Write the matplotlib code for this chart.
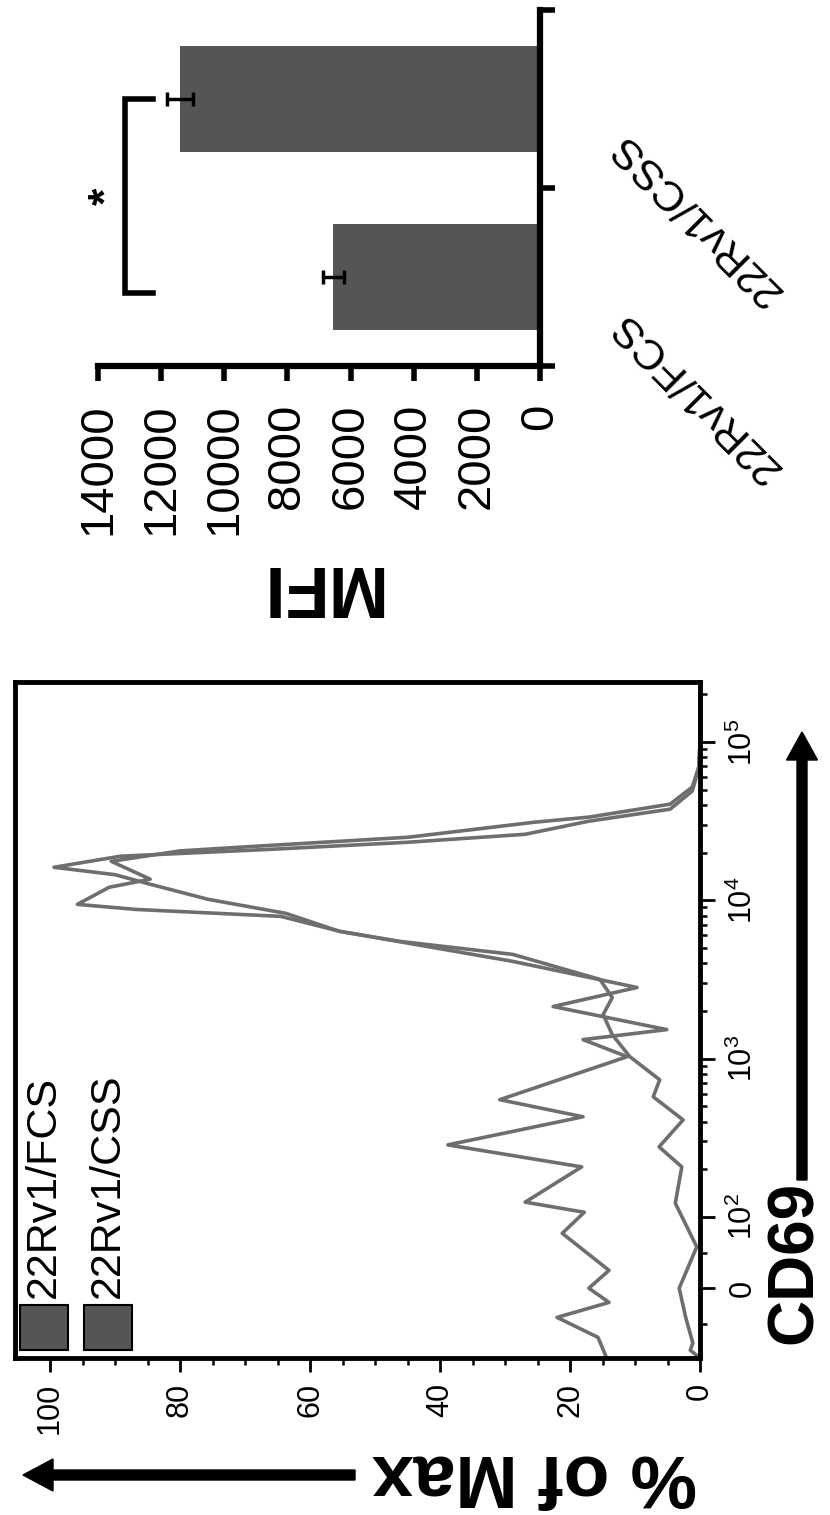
import numpy as np
import matplotlib
matplotlib.use('Agg')
import matplotlib.pyplot as plt
from matplotlib.patches import Rectangle, FancyArrow

plt.rcParams['font.family'] = ['Liberation Sans', 'DejaVu Sans']
plt.rcParams['mathtext.fontset'] = 'custom'
plt.rcParams['mathtext.rm'] = 'Liberation Sans'
plt.rcParams['mathtext.it'] = 'Liberation Sans:italic'
plt.rcParams['mathtext.bf'] = 'Liberation Sans:bold'

# CD69 histograms (channel value, % of max)
fcs_cd69 = [-95, -69, -41, -20, 0, 25, 77, 107, 124, 207, 285, 429, 550, 1028, 1318,
            1524, 2132, 2812, 4111, 6363, 7910, 8750, 9420, 12080, 13580, 17620,
            20500, 22250, 25000, 31100, 33500, 40450, 51850, 69350, 97000, 239000]
fcs_pct = [14.5, 15.7, 22.0, 14.0, 17.1, 14.0, 21.2, 17.8, 26.9, 18.2, 38.8, 18.0, 30.8,
           11.2, 18.0, 5.1, 22.6, 9.7, 28.8, 55.4, 64.5, 86.8, 95.8, 90.9, 84.6, 90.6,
           80.0, 65.8, 44.9, 25.5, 17.1, 4.6, 1.2, 0.2, 0.0, 0.0]
css_cd69 = [-98, -87, -77, -41, 0, 58, 122, 207, 277, 410, 574, 735, 1028, 1416, 1897,
            2430, 3162, 4550, 5500, 6363, 8260, 10140, 12620, 14500, 16150, 18970,
            21000, 23250, 26100, 31570, 37600, 48900, 67450, 97000, 239000]
css_pct = [0.0, 1.5, 1.1, 2.2, 3.2, 0.5, 3.8, 2.8, 6.3, 2.6, 7.2, 6.2, 10.8, 13.5, 14.9,
           13.5, 15.4, 28.8, 46.2, 55.5, 63.7, 75.7, 84.6, 90.0, 99.4, 89.2,
           65.8, 44.9, 26.9, 17.1, 4.6, 1.2, 0.2, 0.0, 0.0]
hist_labels = ['22Rv1/FCS', '22Rv1/CSS']
pct_ticks = [0, 20, 40, 60, 80, 100]
cd69_ticks = [0, 1e2, 1e3, 1e4, 1e5]
cd69_ticklabels = ['0', '$10^2$', '$10^3$', '$10^4$', '$10^5$']

# MFI bars
groups = ['22Rv1/FCS', '22Rv1/CSS']
mfi = [6550, 11400]
mfi_sem = [330, 400]
mfi_ticks = list(range(0, 14001, 2000))

LINE = '#6e6e6e'
FILL = '#555555'
LIN = 0.45  # size of the linear 0..100 stretch, in decades


def biex(v):
    v = np.asarray(v, dtype=float)
    return np.where(v > 100, np.log10(np.maximum(v, 100) / 100) + LIN, v / 100 * LIN)


def biex_inv(u):
    u = np.asarray(u, dtype=float)
    return np.where(u > LIN, 100 * 10 ** (np.minimum(u, 12) - LIN), u / LIN * 100)


W, H = 830, 1515
fig = plt.figure(figsize=(W / 100, H / 100), dpi=100)


def box(l, t, r, b):
    # pixel box (top-left origin) -> figure fractions
    return [l / W, 1 - b / H, (r - l) / W, (b - t) / H]


def px(x, y):
    # pixel position -> inches for dpi_scale_trans
    return x / 100, (H - y) / 100


# the whole figure is drawn turned a quarter turn counter-clockwise:
# histogram below, CD69 running upwards, % of Max running leftwards
ax = fig.add_axes(box(15, 682, 700, 1358))
ax.set_yscale('function', functions=(biex, biex_inv))
ax.plot(fcs_pct, fcs_cd69, color=LINE, lw=2.6, solid_joinstyle='round')
ax.plot(css_pct, css_cd69, color=LINE, lw=2.6, solid_joinstyle='round')
ax.set_xlim(105.4, 0)
ax.set_ylim(-98, 239000)
for s in ax.spines.values():
    s.set_linewidth(3.5)

ax.set_xticks(pct_ticks)
ax.set_xticklabels([str(t) for t in pct_ticks], rotation=90)
ax.set_xticks(np.arange(5, 105, 5), minor=True)
ax.tick_params(axis='x', which='major', direction='out', length=10, width=2,
               pad=8, labelsize=22)
ax.tick_params(axis='x', which='minor', direction='out', length=5, width=1.8)

ax.yaxis.tick_right()
ax.set_yticks(cd69_ticks)
ax.set_yticklabels(cd69_ticklabels, rotation=90, va='center')
minor = [-50, 50] + [m * 10 ** e for e in (2, 3, 4) for m in range(2, 10)] + [2e5]
ax.set_yticks(minor, minor=True)
ax.yaxis.set_minor_formatter(plt.NullFormatter())
ax.tick_params(axis='y', which='major', direction='out', length=11, width=2,
               pad=9, labelsize=22)
ax.tick_params(axis='y', which='minor', direction='out', length=5, width=1.8)

# legend squares and names
for i, name in enumerate(hist_labels):
    x0 = 0.0073 + i * 0.0934
    ax.add_patch(Rectangle((x0, 0.0118), 0.07, 0.0666, transform=ax.transAxes,
                           facecolor=FILL, edgecolor='black', lw=1.5))
    ax.text(x0 + 0.035, 0.0888, name, transform=ax.transAxes, rotation=90,
            ha='center', va='bottom', fontsize=31)

fig.text(*px(795, 1262), 'CD69', transform=fig.dpi_scale_trans, rotation=90,
         ha='center', va='center', fontsize=46, fontweight='bold')
fig.text(*px(534, 1475), '% of Max', transform=fig.dpi_scale_trans, rotation=180,
         ha='center', va='center', fontsize=54, fontweight='bold')

x, y = px(802, 1180)
fig.add_artist(FancyArrow(x, y, 0, (1180 - 732) / 100, width=0.1, head_width=0.31,
                          head_length=0.28, length_includes_head=True,
                          color='black', transform=fig.dpi_scale_trans))
x, y = px(355, 1475)
fig.add_artist(FancyArrow(x, y, -(355 - 23) / 100, 0, width=0.1, head_width=0.32,
                          head_length=0.3, length_includes_head=True,
                          color='black', transform=fig.dpi_scale_trans))

# MFI bar panel, bars run leftwards from the category axis
bx = fig.add_axes(box(98, 10, 540, 366))
ypos = np.arange(len(groups))
bx.barh(ypos, mfi, height=0.59, color=FILL, xerr=mfi_sem,
        error_kw=dict(ecolor='black', elinewidth=2.5, capsize=5, capthick=2.5))
bx.set_xlim(14000, 0)
bx.set_ylim(-0.5, 1.5)
bx.spines['top'].set_visible(False)
bx.spines['left'].set_visible(False)
bx.spines['bottom'].set_linewidth(4.5)
bx.spines['right'].set_linewidth(4.5)

bx.set_xticks(mfi_ticks)
bx.set_xticklabels([str(t) for t in mfi_ticks], rotation=90)
bx.tick_params(axis='x', direction='out', length=11, width=4, pad=16, labelsize=34)
bx.yaxis.tick_right()
bx.set_yticks([-0.5, 0.5, 1.5])
bx.set_yticklabels([])
bx.tick_params(axis='y', direction='out', length=11, width=4)

for i, g in enumerate(groups):
    bx.text(1.353, i - 0.67, g, transform=bx.get_yaxis_transform(), rotation=135,
            ha='center', va='center', fontsize=31)

# significance bracket
arm = max(m + s for m, s in zip(mfi, mfi_sem)) + 450
stem = arm + 900
y_top, y_bot = ypos[1], ypos[0] - 0.09
bx.plot([arm, stem, stem, arm], [y_top, y_top, y_bot, y_bot], color='black', lw=4,
        clip_on=False, solid_joinstyle='miter')
bx.text(stem + 550, (y_top + y_bot) / 2, '*', rotation=90, ha='center', va='center',
        fontsize=32, fontweight='bold')

fig.text(*px(318, 585), 'MFI', transform=fig.dpi_scale_trans, rotation=180,
         ha='center', va='center', fontsize=52, fontweight='bold')

fig.savefig('out.png', dpi=100)
